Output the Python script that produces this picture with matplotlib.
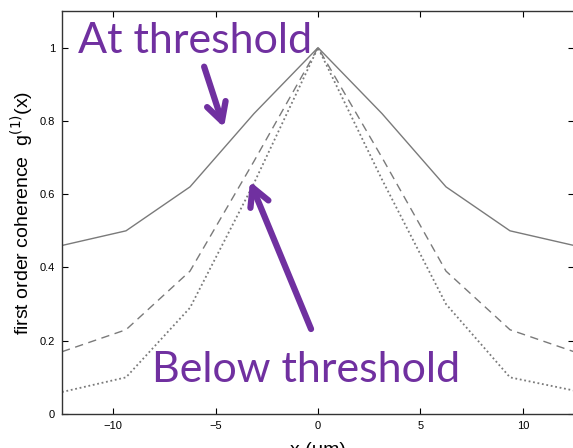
import numpy as np
import matplotlib.pyplot as plt

# Daten
x_um = [-12.5, -9.375, -6.25, -3.125, 0, 3.125, 6.25, 9.375, 12.5]
g_at = [0.46, 0.50, 0.62, 0.82, 1.0, 0.82, 0.62, 0.50, 0.46]
g_mid = [0.17, 0.23, 0.39, 0.69, 1.0, 0.70, 0.39, 0.23, 0.17]
g_below = [0.06, 0.10, 0.29, 0.63, 1.0, 0.64, 0.30, 0.10, 0.064]

xticks = [-10, -5, 0, 5, 10]
yticks = [0, 0.2, 0.4, 0.6, 0.8, 1.0]
yticklabels = ['0', '0.2', '0.4', '0.6', '0.8', '1']

purple = '#7030A0'
gray = '#7a7a7a'

W, H = 573, 448
fig = plt.figure(figsize=(W / 100, H / 100), dpi=100)
ax = fig.add_axes([62 / W, (H - 414) / H, (574 - 62) / W, (414 - 11) / H])

ax.plot(x_um, g_at, color=gray, lw=1.0, ls='-')
ax.plot(x_um, g_mid, color=gray, lw=1.0, ls=(0, (6, 4)))
ax.plot(x_um, g_below, color=gray, lw=1.3, ls=(0, (1, 1.5)))

ax.set_xlim(-12.5, 12.5)
ax.set_ylim(0, 1.1)
ax.set_xticks(xticks)
ax.set_xticklabels(['\u221210', '\u22125', '0', '5', '10'])
ax.set_yticks(yticks)
ax.set_yticklabels(yticklabels)
ax.tick_params(direction='in', top=True, right=True, length=4, width=0.8,
               labelsize=8, pad=5)
for lab in ax.get_xticklabels() + ax.get_yticklabels():
    lab.set_family('Liberation Sans')
for s in ax.spines.values():
    s.set_linewidth(1.0)
    s.set_color('#333333')

# x-Beschriftung ist im Original unten angeschnitten
ax.set_xlabel('x (\u03bcm)', fontsize=14, family='Liberation Sans', labelpad=8)
ax.set_ylabel('first order coherence  g$^{(1)}$(x)', fontsize=14,
              family='Liberation Sans', labelpad=3)

# Beschriftungen und Pfeile
ax.text(-11.7, 0.985, 'At threshold', color=purple, fontsize=31, family='Lato',
        va='baseline', ha='left')
ax.text(-8.1, 0.087, 'Below threshold', color=purple, fontsize=31, family='Lato',
        va='baseline', ha='left')
style = '->,head_length=1.3,head_width=0.7'
ax.annotate('', xy=(-4.59, 0.782), xytext=(-5.56, 0.948),
            arrowprops=dict(arrowstyle=style, color=purple, lw=4.5,
                            shrinkA=0, shrinkB=0))
ax.annotate('', xy=(-3.32, 0.635), xytext=(-0.34, 0.232),
            arrowprops=dict(arrowstyle=style, color=purple, lw=4.5,
                            shrinkA=0, shrinkB=0))

fig.savefig('out.png', dpi=100)
